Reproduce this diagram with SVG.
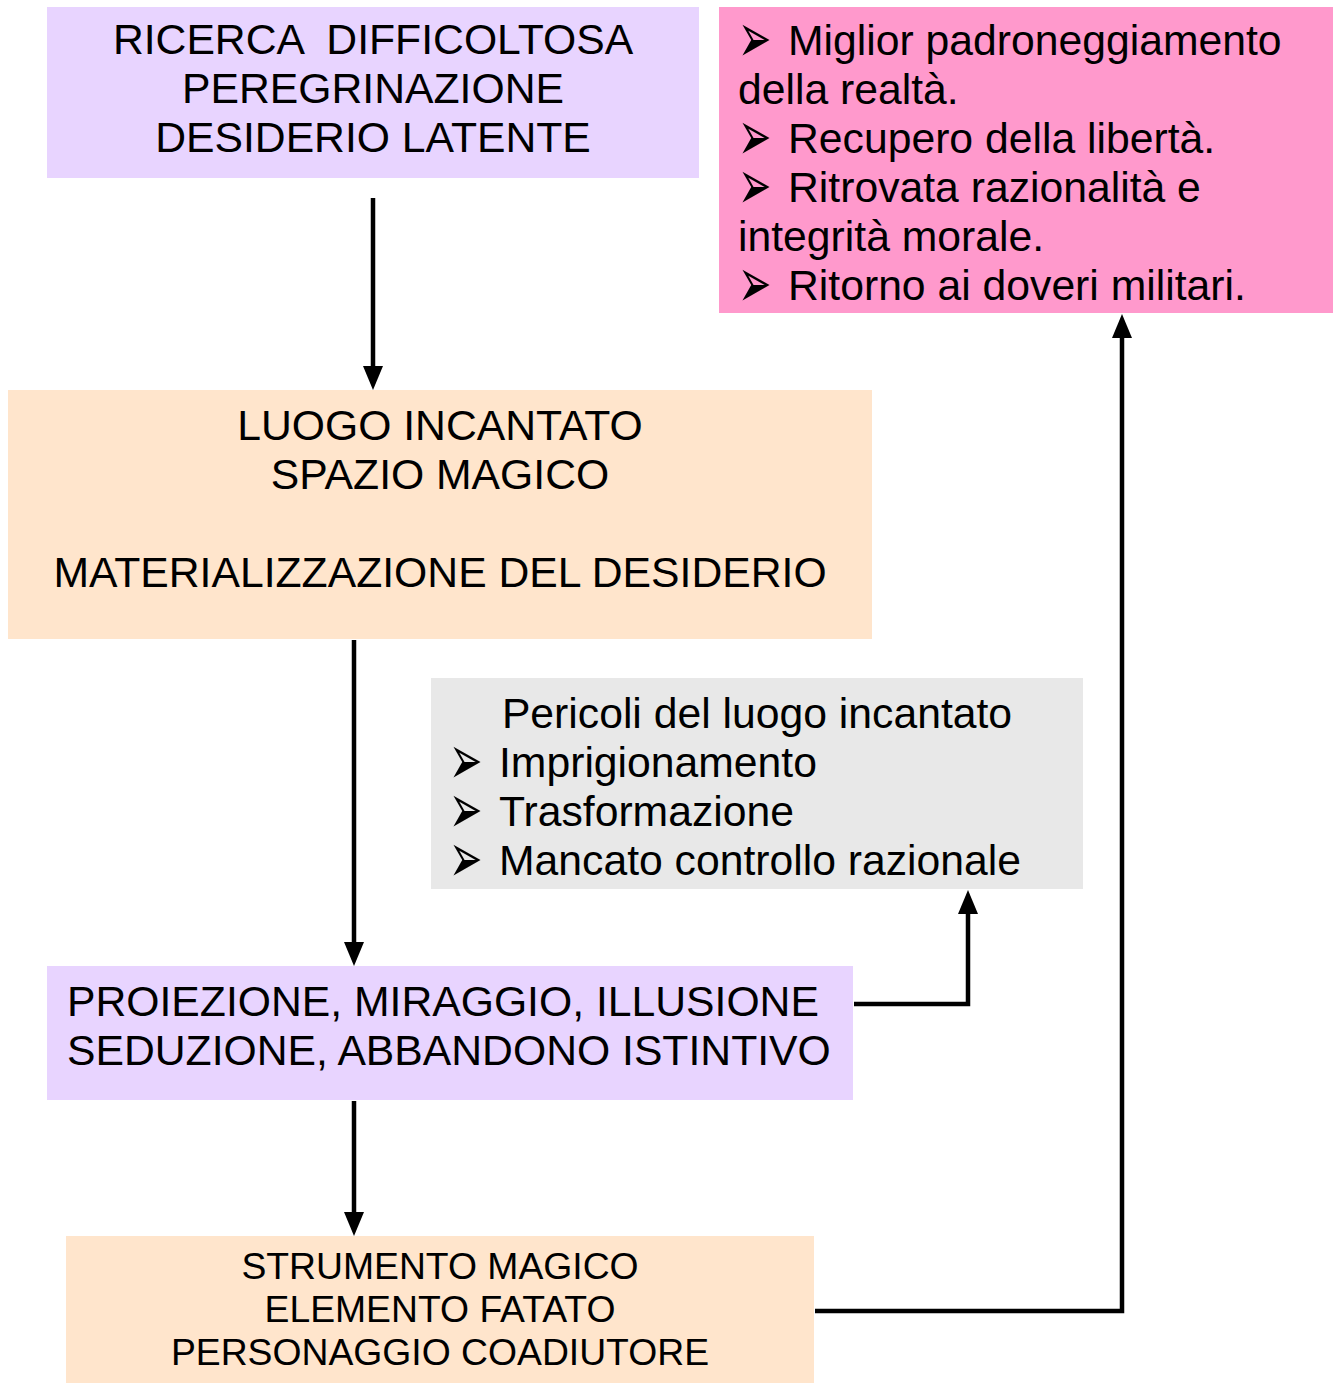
<svg xmlns="http://www.w3.org/2000/svg" width="1337" height="1384" viewBox="0 0 1337 1384">
<style>
.t{font-family:"Liberation Sans",Arial,sans-serif;font-size:42.7px;fill:#000}
.s{font-size:37.3px}
.c{text-anchor:middle}
.b{font-family:"DejaVu Sans",sans-serif;font-size:40px}
.ln{fill:none;stroke:#000;stroke-width:4.5}
</style>
<rect width="1337" height="1384" fill="#fff"/>
<g id="n1">
<rect x="47" y="7" width="652" height="171" fill="#e8d4ff"/>
<text class="t c" x="373" y="54" xml:space="preserve">RICERCA  DIFFICOLTOSA</text>
<text class="t c" x="373" y="103">PEREGRINAZIONE</text>
<text class="t c" x="373" y="152">DESIDERIO LATENTE</text>
</g>
<g id="n2">
<rect x="719" y="7" width="614" height="306" fill="#ff99cc"/>
<text class="b" transform="translate(738,62) scale(1,1.75)">➢</text><text class="t" x="788" y="55">Miglior padroneggiamento</text>
<text class="t" x="738" y="104">della realtà.</text>
<text class="b" transform="translate(738,160) scale(1,1.75)">➢</text><text class="t" x="788" y="153">Recupero della libertà.</text>
<text class="b" transform="translate(738,209) scale(1,1.75)">➢</text><text class="t" x="788" y="202">Ritrovata razionalità e</text>
<text class="t" x="738" y="251">integrità morale.</text>
<text class="b" transform="translate(738,307) scale(1,1.75)">➢</text><text class="t" x="788" y="300">Ritorno ai doveri militari.</text>
</g>
<g id="n3">
<rect x="8" y="390" width="864" height="249" fill="#ffe5cc"/>
<text class="t c" x="440" y="440">LUOGO INCANTATO</text>
<text class="t c" x="440" y="489">SPAZIO MAGICO</text>
<text class="t c" x="440" y="587">MATERIALIZZAZIONE DEL DESIDERIO</text>
</g>
<g id="n4">
<rect x="431" y="678" width="652" height="211" fill="#e8e8e8"/>
<text class="t c" x="757" y="728">Pericoli del luogo incantato</text>
<text class="b" transform="translate(449,784) scale(1,1.75)">➢</text><text class="t" x="499" y="777">Imprigionamento</text>
<text class="b" transform="translate(449,833) scale(1,1.75)">➢</text><text class="t" x="499" y="826">Trasformazione</text>
<text class="b" transform="translate(449,882) scale(1,1.75)">➢</text><text class="t" x="499" y="875">Mancato controllo razionale</text>
</g>
<g id="n5">
<rect x="47" y="966" width="806" height="134" fill="#e8d4ff"/>
<text class="t" x="67" y="1016">PROIEZIONE, MIRAGGIO, ILLUSIONE</text>
<text class="t" x="67" y="1065">SEDUZIONE, ABBANDONO ISTINTIVO</text>
</g>
<g id="n6">
<rect x="66" y="1236" width="748" height="147" fill="#ffe5cc"/>
<text class="t s c" x="440" y="1279">STRUMENTO MAGICO</text>
<text class="t s c" x="440" y="1322">ELEMENTO FATATO</text>
<text class="t s c" x="440" y="1365">PERSONAGGIO COADIUTORE</text>
</g>
<g id="connectors">
<path class="ln" d="M373,198 V368" />
<path d="M363,366 L383,366 L373,390 Z"/>
<path class="ln" d="M354,640 V944" />
<path d="M344,942 L364,942 L354,966 Z"/>
<path class="ln" d="M354,1101 V1214" />
<path d="M344,1212 L364,1212 L354,1236 Z"/>
<path class="ln" d="M854,1004 H968 V912" />
<path d="M958,914 L978,914 L968,890 Z"/>
<path class="ln" d="M815,1311 H1122 V336" />
<path d="M1112,338 L1132,338 L1122,314 Z"/>
</g>
</svg>
